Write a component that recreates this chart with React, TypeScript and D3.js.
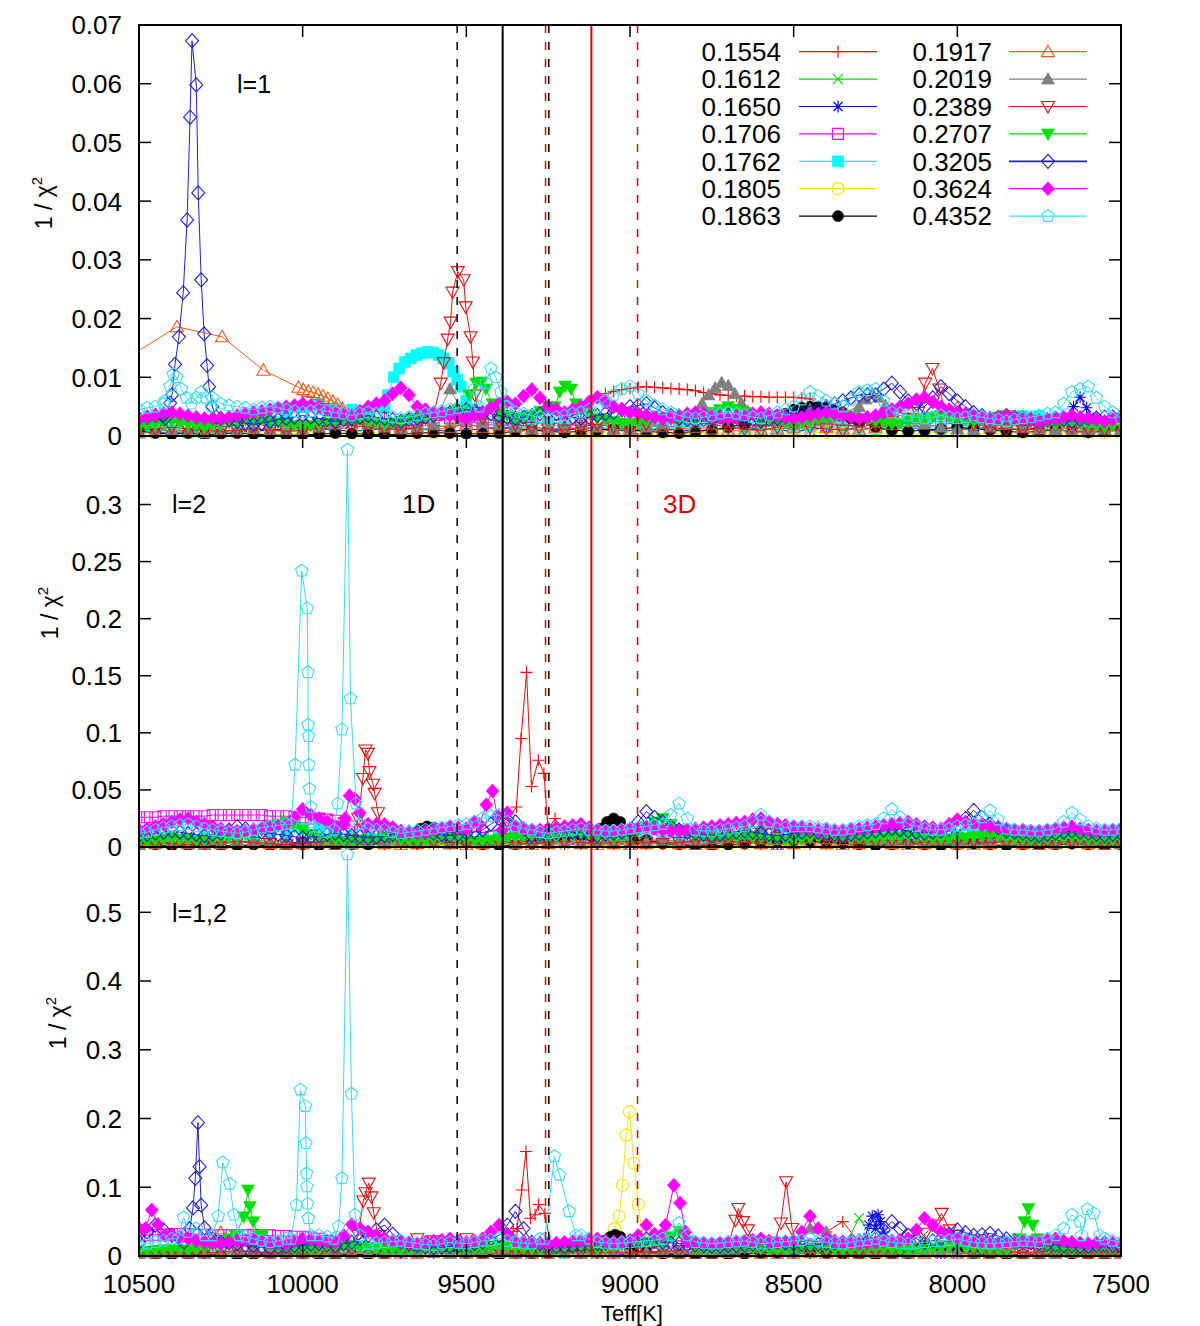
// Three stacked 1/chi^2 vs Teff panels (l=1, l=2, l=1,2), gnuplot look
import * as d3 from "d3"

type Pt = [number, number]

// sample grids in Teff, values below are in units of 1e-3
const TEFF = d3.range(10500, 7499, -50)
const TEFF_MID = d3.range(10475, 7524, -50)
const UNIT = 1e-3

const LABELS = ["0.1554", "0.1612", "0.1650", "0.1706", "0.1762", "0.1805", "0.1863",
  "0.1917", "0.2019", "0.2389", "0.2707", "0.3205", "0.3624", "0.4352"]
const COLORS = ["#ff0000", "#00dd00", "#0000ff", "#ff00ff", "#00ffff", "#f0e800", "#000000",
  "#f05a1e", "#808080", "#e81010", "#00e000", "#2020d8", "#ff00ff", "#38dcf0"]
const MARKS = ["plus", "cross", "star", "sqOpen", "sqFill", "circOpen", "circFill",
  "triOpen", "triFill", "triDownOpen", "triDownFill", "diaOpen", "diaFill", "pentOpen"]

const XTICKS = [10500, 10000, 9500, 9000, 8500, 8000, 7500]
const YTICKS_1 = [0, 0.01, 0.02, 0.03, 0.04, 0.05, 0.06, 0.07]
const YTICKS_2 = [0, 0.05, 0.1, 0.15, 0.2, 0.25, 0.3]
const YTICKS_3 = [0, 0.1, 0.2, 0.3, 0.4, 0.5]

// vertical reference lines (Teff)
const VLINES = [
  { t: 9528, color: "#000", dash: true },
  { t: 9389, color: "#000", dash: false },
  { t: 9258, color: "#e00000", dash: true },
  { t: 9248, color: "#000", dash: true },
  { t: 9118, color: "#e00000", dash: false },
  { t: 8977, color: "#e00000", dash: true },
]

// ---------- panel 1 : l=1 ----------
const l1_1554 = [1.0,1.2,0.8,1.0,0.6,0.8,1.0,0.8,1.2,1.0,
  0.8,1.2,1.5,1.2,4.5,4.0,2.0,2.5,1.8,1.5,
  2.0,1.5,1.2,1.5,2.0,2.5,3.0,4.0,6.5,7.5,
  8.0,8.3,8.2,8.0,7.8,7.3,7.0,6.8,6.7,6.6,
  6.6,6.4,5.0,4.0,3.0,2.0,1.5,1.5,1.2,1.0,
  1.5,1.2,1.0,1.5,1.0,1.2,1.0,1.5,1.0,1.2,1.0]
const l1_1554_pk: Pt[][] = [[[9100,6.5],[9075,7.2],[9050,7.6],[9025,7.9],[9000,8.1],[8975,8.3],[8950,8.4],[8925,8.3],[8900,8.2],[8875,8.1],[8850,8.0],[8825,7.9],[8800,7.7],[8775,7.4],[8750,7.2],[8725,7.0],[8700,6.9],[8675,6.8],[8650,6.8],[8625,6.7],[8600,6.7],[8575,6.6],[8550,6.6],[8525,6.6],[8500,6.6],[8475,6.5],[8450,6.3]]]
const l1_1612 = [1.5,1.0,1.2,0.8,1.0,1.5,1.8,1.2,1.0,0.8,
  1.0,1.5,2.0,2.2,1.8,1.5,1.2,1.0,1.5,1.8,
  2.0,1.5,1.2,1.8,2.5,2.0,1.5,1.2,1.0,1.5,
  2.0,1.8,1.5,1.2,2.0,2.5,2.0,1.5,1.2,1.0,
  1.5,2.0,2.5,2.0,1.5,1.2,1.0,1.5,2.0,2.5,
  2.0,1.5,1.2,1.0,1.5,2.0,2.5,2.0,1.5,1.2,1.0]
const l1_1650 = [0.8,0.6,0.5,0.8,1.0,0.8,0.6,0.8,1.0,1.2,
  1.5,1.2,1.0,0.8,1.0,1.2,1.5,1.2,1.0,0.8,
  1.0,1.2,1.5,1.2,1.0,0.8,1.0,1.2,1.5,1.0,
  0.8,1.0,1.2,1.0,0.8,1.0,1.2,1.5,1.2,1.0,
  0.8,1.0,1.5,2.0,1.5,1.0,1.2,1.5,1.0,0.8,
  1.0,1.2,1.5,2.0,2.5,2.0,1.5,3.0,2.5,2.0,1.5]
const l1_1650_pk: Pt[][] = [[[7665,3.0],[7645,5.0],[7625,6.6],[7605,4.8],[7585,3.0]]]
const l1_1706 = [2.0,2.2,2.5,2.0,1.8,1.5,2.0,2.5,2.2,2.0,
  1.8,2.0,2.5,2.2,2.0,1.8,1.5,2.0,2.5,3.0,
  2.5,2.0,1.8,2.0,2.5,2.2,2.0,1.8,2.0,2.2,
  2.5,2.0,1.8,1.5,2.0,2.2,2.5,2.0,1.8,2.0,
  2.2,2.0,1.8,2.0,2.5,2.2,2.0,1.8,1.5,2.0,
  2.2,2.0,1.8,2.0,2.5,2.2,2.0,1.8,2.0,2.2,2.0]
const l1_1762 = [1.0,0.8,1.0,0.6,0.8,0.5,1.0,1.5,2.5,4.0,
  5.0,5.5,4.5,4.5,3.5,5.0,11.5,13.5,14.2,12.3,
  7.5,4.0,2.5,2.0,1.5,2.0,1.5,1.2,1.0,1.5,
  1.2,1.0,1.5,1.2,1.0,1.2,1.5,1.2,1.0,1.5,
  1.2,1.5,2.0,1.5,1.2,1.0,1.5,1.2,1.5,1.2,
  1.5,2.0,2.5,3.2,3.4,3.4,3.0,2.5,2.0,1.5,1.2]
const l1_1762_pk: Pt[][] = [[[9740,7.0],[9722,10.0],[9705,11.5],[9688,12.6],[9670,13.2],[9652,13.8],[9635,14.1],[9618,14.3],[9600,14.2],[9585,13.8],[9570,13.2],[9554,12.4],[9540,11.0],[9528,9.6],[9517,8.4],[9500,6.0],[9485,4.5]]]
const l1_1805 = [0.5,0.3,0.4,0.5,0.3,0.4,0.5,0.6,0.4,0.3,
  0.5,0.4,0.3,0.5,0.6,0.4,0.3,0.5,0.4,0.3,
  0.5,0.6,0.4,0.3,0.5,0.4,0.3,0.5,0.6,0.4,
  0.3,0.5,0.4,0.3,0.5,0.6,0.4,0.3,0.5,0.4,
  0.3,0.5,0.6,0.4,0.3,0.5,0.4,0.3,0.5,0.6,
  0.4,0.3,0.5,0.4,0.3,0.5,0.6,0.4,0.3,0.5,0.4]
const l1_1863 = [0.8,0.5,0.3,0.5,0.2,0.4,0.5,0.3,0.2,0.1,
  0.2,0.3,0.5,0.4,0.3,0.2,0.3,0.5,0.6,0.5,
  0.4,0.3,0.5,0.8,1.0,0.8,0.6,0.8,1.0,1.2,
  1.0,0.8,0.6,0.5,0.8,1.0,1.5,2.0,2.5,3.5,
  4.5,5.0,4.8,4.0,2.5,1.5,1.0,0.8,1.0,1.2,
  1.5,1.2,1.0,0.8,0.6,0.8,1.0,0.8,0.6,0.8,1.0]
const l1_1863_pk: Pt[][] = [[[8525,3.8],[8500,4.5],[8475,4.8],[8450,5.0],[8425,5.0],[8400,4.8],[8375,4.4],[8350,4.0],[8325,3.0]]]
const l1_1917 = [15,18,18.5,18,17.5,16.9,14,12,11,8.5,
  8,7,5.5,3.5,2.5,2.0,1.5,1.2,1.0,1.5,
  2.0,1.5,1.0,0.8,1.0,1.2,1.5,1.0,0.8,1.0,
  1.2,1.0,0.8,1.2,1.5,1.2,1.0,0.8,1.0,1.2,
  1.5,2.0,1.5,1.2,1.0,1.5,2.0,2.5,3.0,4.0,
  4.8,3.5,2.5,2.0,1.5,1.2,1.0,1.5,1.2,1.0,0.8]
const l1_1917_pk: Pt[][] = [[[10560,12.5],[10384,18.6],[10246,16.9],[10120,11.2],[10013,8.3],[9998,7.9],[9983,7.6],[9968,7.4],[9953,7.1],[9938,6.8],[9923,6.4],[9908,5.9],[9893,5.4],[9878,4.6],[9860,3.5]]]
const l1_2019 = [0.5,0.8,1.0,0.8,0.5,0.8,1.0,1.2,1.0,0.8,
  1.0,1.5,2.0,2.5,2.0,1.5,1.2,1.5,2.0,8.0,
  3.0,2.5,2.0,1.5,1.2,1.0,1.5,2.0,1.5,1.2,
  1.0,1.5,2.0,3.0,4.0,7.5,9.0,5.0,2.5,2.5,
  2.0,4.5,3.0,4.0,5.5,7.3,4.5,3.0,2.0,1.5,
  1.2,1.0,1.5,2.0,1.5,1.2,1.0,0.8,1.0,1.2,1.0]
const l1_2019_pk: Pt[][] = [
  [[8800,4.0],[8780,5.5],[8760,7.0],[8740,8.2],[8720,9.1],[8700,8.6],[8680,7.2],[8660,5.6],[8640,4.2]],
  [[8300,5.0],[8280,6.3],[8260,7.3],[8240,6.6],[8220,5.2],[8200,4.0]]]
const l1_2389 = [1.0,1.2,1.5,1.2,1.0,0.8,1.0,1.2,1.0,0.8,
  1.0,1.5,2.0,1.8,1.5,1.2,1.0,1.5,2.0,4.0,
  20,3.0,2.5,2.0,1.5,1.2,1.0,1.5,2.0,1.5,
  1.2,2.0,3.0,3.1,3.0,2.0,1.5,1.2,1.0,1.5,
  2.0,1.5,1.2,1.0,1.5,2.0,2.5,3.0,8.0,6.0,
  3.0,2.0,1.5,1.2,1.0,1.5,2.0,1.5,1.2,1.0,1.5]
const l1_2389_pk: Pt[][] = [
  [[9600,3.5],[9578,9.0],[9569,12.5],[9557,16.5],[9548,19.4],[9542,24.5],[9526,28.0],[9508,26.6],[9502,22.0],[9487,16.9],[9480,12.6],[9474,7.0],[9462,4.0]],
  [[8120,4.0],[8098,9.0],[8076,11.5],[8055,8.0],[8035,4.0]]]
const l1_2707 = [1.5,2.0,2.5,2.0,1.5,2.0,2.5,3.0,2.5,2.0,
  1.5,2.0,2.5,3.0,2.5,2.0,2.5,3.0,3.5,4.0,
  5.0,8.5,4.0,3.0,3.5,5.0,8.0,4.5,3.0,2.5,
  2.0,2.5,3.0,2.5,3.0,4.0,5.0,4.0,3.0,2.5,
  2.0,2.5,3.0,3.5,3.0,2.5,2.0,2.5,3.0,3.5,
  3.0,2.5,3.0,3.5,3.0,2.5,2.0,2.5,2.0,1.5,2.0]
const m1_2707 = [1.8,2.2,2.2,1.8,1.8,2.2,2.8,2.8,2.2,1.8,
  1.8,2.2,2.8,2.8,2.2,2.2,2.8,3.2,3.8,4.5,
  6.0,6.0,3.5,3.2,4.2,6.5,6.0,3.8,2.8,2.2,
  2.2,2.8,2.8,2.8,3.5,4.5,4.5,3.5,2.8,2.2,
  2.2,2.8,3.2,3.2,2.8,2.2,2.2,2.8,3.2,3.2,
  2.8,2.8,3.2,3.2,2.8,2.2,2.2,2.2,1.8,1.8]
const l1_2707_pk: Pt[][] = [
  [[9510,4.5],[9490,7.0],[9470,9.0],[9455,9.2],[9440,8.0],[9420,5.5]],
  [[9230,5.0],[9215,7.5],[9198,8.5],[9180,8.0],[9165,5.5]]]
const l1_3205 = [3.0,3.5,6,40,8,3.0,2.5,2.0,2.5,3.0,
  3.5,3.0,2.5,3.0,3.5,3.0,2.5,3.0,3.5,4.0,
  4.5,4.0,3.5,3.0,3.5,4.0,3.5,3.0,3.5,4.0,
  5.0,5.5,4.0,3.0,2.5,3.0,3.5,3.0,2.5,3.0,
  3.5,4.0,5.0,6.0,7.0,7.0,9.0,6.0,5.0,8.4,
  6.0,4.0,3.0,3.5,3.0,2.5,3.0,2.5,3.0,3.2,3.3]
const m1_3205 = [3.2,3.5,3.0,20,5,2.8,2.2,2.2,2.8,3.2,
  3.2,2.8,2.8,3.2,3.2,2.8,2.8,3.2,3.8,4.2,
  4.2,3.8,3.2,3.2,3.8,3.8,3.2,3.2,3.8,4.5,
  5.2,4.8,3.5,2.8,2.8,3.2,3.2,2.8,2.8,3.2,
  3.8,4.5,5.5,6.5,7.0,8.0,7.5,5.5,6.5,7.2,
  5.0,3.5,3.2,3.2,2.8,2.8,2.8,2.8,3.1,3.2]
const l1_3205_pk: Pt[][] = [[[10420,3.0],[10405,5.6],[10399,7.0],[10390,12.2],[10378,16.9],[10365,24.4],[10353,36.8],[10344,54.3],[10338,67.3],[10325,59.8],[10319,41.4],[10310,26.6],[10301,17.4],[10292,12.0],[10286,8.4],[10276,5.0],[10264,3.2]]]
const l1_3624 = [3.0,3.5,4.0,3.5,3.0,3.0,3.5,4.0,4.5,5.0,
  5.5,5.0,4.0,3.5,5.0,6.0,8.2,5.0,4.0,3.5,
  3.0,4.0,5.5,5.5,7.9,5.0,4.0,5.0,6.6,5.0,
  4.0,3.5,3.0,3.5,4.0,3.5,3.0,3.5,4.0,3.5,
  3.0,3.5,4.0,3.5,3.0,3.5,4.5,5.5,6.6,5.0,
  4.0,3.5,3.0,3.5,3.0,2.5,3.0,3.5,3.0,2.5,3.0]
const m1_3624 = [3.2,3.8,3.8,3.2,3.0,3.2,3.8,4.2,4.8,5.2,
  5.2,4.5,3.8,4.2,5.5,7.2,7.0,4.5,3.8,3.2,
  3.5,4.8,5.8,6.8,6.5,4.5,4.5,5.8,5.8,4.5,
  3.8,3.2,3.2,3.8,3.8,3.2,3.2,3.8,3.8,3.2,
  3.2,3.8,3.8,3.2,3.2,4.0,5.0,6.2,5.8,4.5,
  3.8,3.2,3.2,3.2,2.8,2.8,3.2,3.2,2.8,2.8]
const l1_4352 = [4.5,5.0,10.5,8,7.5,5.5,5.0,4.5,5.0,4.5,
  4.0,4.5,4.0,3.5,4.0,3.5,3.0,3.5,4.0,4.5,
  5.0,11.5,6.0,4.0,3.5,3.0,3.5,4.0,5.0,7.0,
  8.5,6.0,4.5,3.5,3.0,3.5,4.0,3.5,3.0,4.0,
  5.0,7.5,6.0,5.0,7.5,8.0,4.0,3.5,3.0,3.5,
  3.0,3.5,3.0,2.5,3.0,3.5,4.0,7.5,8.4,5.0,3.0]
const m1_4352 = [4.8,5.5,9.0,8.0,6.5,5.2,4.8,4.8,4.8,4.2,
  4.2,4.2,3.8,3.8,3.8,3.2,3.2,3.8,4.2,4.8,
  8.0,9.0,5.0,3.8,3.2,3.2,3.8,4.5,6.0,8.0,
  7.2,5.2,4.0,3.2,3.2,3.8,3.8,3.2,3.5,4.5,
  6.2,6.8,5.5,6.2,7.8,6.0,3.8,3.2,3.2,3.2,
  3.2,3.2,2.8,2.8,3.2,3.8,5.5,8.0,6.5,4.0]
const l1_4352_pk: Pt[][] = [
  [[10420,6.0],[10405,8.5],[10395,10.5],[10385,10.0],[10370,8.0],[10355,6.5],[10340,5.5],[10325,6.5],[10310,7.5],[10295,6.5],[10280,5.0]],
  [[9460,5.0],[9440,9.0],[9425,11.5],[9410,10.0],[9395,7.5],[9380,5.0]]]

// ---------- panel 2 : l=2 ----------
const l2_1554 = [2,1,2,1,1,1,2,1,1,2,
  3,2,1,2,3,2,1,1,2,3,
  4,3,8,25,30,16,3,2,1,2,
  3,2,1,2,1,1,2,1,1,2,
  3,2,1,2,1,1,2,1,2,3,
  2,1,1,2,1,2,3,2,1,1,2]
const l2_1554_pk: Pt[][] = [[[9400,8],[9372,25],[9347,35],[9333,95],[9316,153],[9301,53],[9280,76],[9263,64.5],[9250,15],[9229,25],[9210,8]]]
const l2_1612 = [4,5,4,6,5,3,4,6,5,4,
  3,5,6,4,3,5,6,4,3,5,
  4,3,5,6,4,3,5,6,4,3,
  5,4,6,5,3,4,5,6,4,3,
  5,4,3,5,6,4,3,5,4,6,
  5,3,4,5,6,4,3,5,4,3,5]
const l2_1650 = [2,3,4,3,2,4,5,3,2,3,
  4,5,3,2,3,4,3,2,4,5,
  3,2,3,4,5,3,2,3,4,3,
  2,4,5,3,2,3,4,5,3,2,
  3,4,5,6,4,3,2,3,4,3,
  2,3,4,5,3,2,3,4,3,2,3]
const l2_1706 = [26,26,27,27,27,28,28,28,27,27,
  26,25,23,18,12,10,9,8,10,12,
  10,8,10,12,10,8,10,12,10,8,
  10,12,10,8,10,12,10,8,10,12,
  10,8,10,12,10,8,10,12,10,8,
  10,12,10,8,10,12,10,8,10,8,10]
const m2_1706 = [26,27,27,27,28,28,28,28,27,26,
  25,24,21,15,11,10,9,9,11,11,
  9,9,11,11,9,9,11,11,9,9,
  11,11,9,9,11,11,9,9,11,11,
  9,9,11,11,9,9,11,11,9,9,
  11,11,9,9,11,11,9,9,9,9]
const l2_1762 = [8,6,5,7,9,6,5,8,10,12,
  16,18,14,10,8,6,5,7,9,6,
  5,7,9,10,8,6,5,7,9,6,
  5,7,6,5,8,6,5,7,9,6,
  5,7,8,6,5,7,9,6,5,7,
  10,13,15,15,14,12,9,7,6,5,7]
const l2_1805 = [1,2,1,1,2,1,0.5,1,2,1,
  1,2,1,1,0.5,1,2,1,1,2,
  1,1,2,1,0.5,1,2,1,1,2,
  1,1,2,1,1,0.5,1,2,1,1,
  2,1,1,0.5,1,2,1,1,2,1,
  1,0.5,1,2,1,1,2,1,1,0.5,1]
const l2_1863 = [3,2,1,1,2,1,1,2,1,1,
  2,1,1,2,2,3,8,16,18,12,
  4,2,1,2,3,4,6,10,15,25,
  15,6,3,2,1,1,2,3,4,5,
  6,5,4,3,2,1,2,3,2,1,
  2,3,2,1,2,1,2,3,2,1,2]
const l2_1863_pk: Pt[][] = [
  [[9680,6],[9660,12],[9640,16],[9620,18],[9600,17],[9580,13],[9560,7]],
  [[9110,8],[9090,16],[9070,22],[9050,25],[9030,22],[9010,14],[8990,6]]]
const l2_1917 = [2,3,4,3,2,3,5,4,3,2,
  3,4,2,3,4,3,2,3,4,3,
  2,3,4,3,2,3,4,3,2,3,
  2,3,4,3,2,3,4,5,3,2,
  3,4,3,2,3,4,3,2,3,4,
  3,2,3,4,3,2,3,4,3,2,3]
const l2_2019 = [2,3,4,3,2,3,4,5,4,3,
  4,5,4,3,4,5,6,5,4,3,
  4,5,4,3,4,5,4,3,4,5,
  4,5,6,5,6,8,10,14,18,15,
  12,14,15,12,8,6,5,4,5,6,
  5,4,5,6,5,4,3,4,5,4,3]
const l2_2389 = [3,4,3,2,3,4,5,4,3,2,
  3,4,5,6,40,8,4,3,5,4,
  3,4,5,4,3,4,5,4,3,4,
  5,4,3,4,5,6,5,4,5,8,
  10,8,6,5,4,5,6,5,4,5,
  6,5,4,5,4,3,4,5,4,3,4]
const l2_2389_pk: Pt[][] = [[[9830,25],[9816,60],[9808,85],[9801,82],[9796,66],[9785,55],[9780,47],[9770,30],[9755,15]]]
const l2_2707 = [5,6,8,7,6,8,10,12,18,22,
  15,8,6,5,7,8,6,5,7,8,
  6,5,7,9,10,8,10,12,9,8,
  10,18,25,15,10,8,9,10,8,7,
  6,8,10,9,8,7,9,10,8,7,
  8,9,10,8,7,6,8,9,7,6,7]
const m2_2707 = [5,7,7,6,7,9,11,15,20,18,
  11,7,5,6,7,7,5,6,7,7,
  5,6,8,9,9,9,11,10,8,9,
  14,22,20,12,9,8,9,9,7,6,
  7,9,9,8,7,8,9,9,7,7,
  8,9,9,7,6,7,8,8,6,6]
const l2_3205 = [10,12,14,12,10,12,18,15,12,10,
  8,10,12,10,8,10,12,14,12,10,
  12,15,25,22,10,12,14,12,10,12,
  14,31,22,15,12,10,12,14,12,10,
  12,14,12,10,12,14,16,14,12,14,
  18,32,20,14,12,10,12,14,12,10,12]
const m2_3205 = [11,13,13,11,11,15,16,13,11,9,
  9,11,11,9,9,11,13,13,11,11,
  13,20,24,16,11,13,13,11,11,13,
  22,26,18,13,11,11,13,13,11,11,
  13,13,11,11,13,15,15,13,13,16,
  25,26,17,13,11,11,13,13,11,11]
const l2_3624 = [15,18,22,25,20,16,14,15,18,20,
  33,25,18,22,20,20,14,12,15,18,
  16,30,45,18,15,16,18,20,15,14,
  16,18,15,14,16,18,20,22,25,20,
  18,16,15,14,16,18,20,22,18,16,
  24,20,18,16,15,14,16,18,15,14,16]
const m2_3624 = [16,20,24,22,18,15,14,16,19,26,
  28,22,20,21,20,17,13,13,16,17,
  22,38,30,16,15,17,19,17,14,15,
  17,16,14,15,17,19,21,24,22,19,
  17,15,14,15,17,19,21,20,17,20,
  22,19,17,15,14,15,17,16,14,15]
const l2_3624_pk: Pt[][] = [
  [[9870,25],[9857,45],[9840,42],[9826,30],[9810,18]],
  [[9460,20],[9439,37],[9420,49],[9405,27],[9390,15]]]
const l2_4352 = [12,15,18,20,16,14,12,15,18,20,
  18,15,12,14,16,15,12,14,16,18,
  20,25,28,18,15,12,14,16,15,14,
  16,18,20,38,15,14,16,18,28,16,
  18,18,16,15,18,20,33,20,16,15,
  18,20,32,16,15,14,16,30,18,15,16]
const m2_4352 = [13,17,19,18,15,13,13,17,19,19,
  16,13,13,15,15,13,13,15,17,19,
  22,27,22,16,13,13,15,15,14,15,
  17,19,28,25,14,15,17,22,22,17,
  18,17,15,16,19,25,26,18,15,16,
  19,26,24,15,14,15,22,24,16,15]
const l2_4352_pk: Pt[][] = [
  [[10035,20],[10023,72],[10003,242],[9986,209],[9984,153],[9983,107],[9982,97],[9981,72],[9979,51],[9975,35],[9965,18]],
  [[9905,15],[9893,38],[9880,103],[9863,348],[9854,130],[9837,38],[9825,20]]]

// ---------- panel 3 : l=1,2 ----------
const l3_1554 = [3,2,1,2,3,2,1,2,3,2,
  1,2,3,2,1,2,3,2,1,2,
  3,2,5,30,40,10,3,2,3,2,
  1,2,3,2,1,2,3,4,3,2,
  3,5,35,50,20,5,3,2,3,2,
  1,2,3,2,1,2,3,2,1,2,3]
const l3_1554_pk: Pt[][] = [[[9375,15],[9357,36],[9345,40],[9331,96],[9318,152],[9304,55],[9290,60],[9279,75],[9260,62],[9245,22],[9230,10]]]
const l3_1612 = [4,5,6,5,4,6,7,5,4,5,
  6,5,4,6,7,5,4,5,6,5,
  4,6,5,4,5,6,5,4,6,5,
  4,5,6,5,4,6,5,4,5,6,
  5,4,6,10,55,20,6,5,4,6,
  5,4,5,6,5,4,6,5,4,5,6]
const l3_1650 = [2,3,4,3,2,4,5,3,2,3,
  4,5,3,2,3,4,3,2,4,5,
  3,2,3,4,5,3,2,3,4,3,
  2,4,5,3,2,3,4,5,3,2,
  3,4,5,6,10,50,12,4,3,2,
  3,4,5,3,2,3,4,5,3,2,3]
const l3_1650_pk: Pt[][] = [[[8285,25],[8270,45],[8260,58],[8250,40],[8242,60],[8235,50],[8225,35],[8210,20]]]
const l3_1706 = [30,31,32,32,31,30,30,31,30,29,
  28,25,20,15,12,10,12,14,12,10,
  12,14,12,10,12,14,12,10,12,14,
  12,10,12,14,12,10,12,14,12,10,
  12,14,12,10,12,14,12,10,12,14,
  12,10,12,14,12,10,12,14,12,10,12]
const m3_1706 = [30,31,32,31,30,30,30,30,29,28,
  27,22,18,14,11,11,13,13,11,11,
  13,13,11,11,13,13,11,11,13,13,
  11,11,13,13,11,11,13,13,11,11,
  13,13,11,11,13,13,11,11,13,13,
  11,11,13,13,11,11,13,13,11,11]
const l3_1762 = [8,6,5,7,9,6,5,8,10,12,
  15,20,14,10,8,6,5,7,9,6,
  5,7,9,10,8,6,5,7,9,6,
  5,7,6,5,8,6,5,7,9,6,
  5,7,8,6,5,7,9,6,5,7,
  9,12,15,20,22,20,15,10,8,6,7]
const l3_1805 = [2,1,2,1,1,2,1,1,2,1,
  1,2,1,1,2,1,1,2,1,1,
  2,1,1,2,1,1,2,1,1,2,
  1,1,2,1,1,2,1,1,2,1,
  1,2,1,1,2,1,1,2,1,1,
  2,1,1,2,1,1,2,1,1,2,1]
const l3_1805_pk: Pt[][] = [[[9060,10],[9047,40],[9033,58],[9023,103],[9012,176],[9002,210],[8988,135],[8975,75],[8960,20]]]
const l3_1863 = [3,2,1,1,2,1,1,2,1,1,
  2,1,1,2,2,3,6,12,14,10,
  4,2,1,2,3,4,6,10,20,30,
  18,6,3,2,1,1,2,3,4,5,
  6,5,4,3,2,1,2,3,15,12,
  8,3,2,1,2,1,2,3,2,1,2]
const l3_1863_pk: Pt[][] = [[[9100,12],[9080,22],[9060,28],[9045,31],[9030,28],[9010,18],[8990,8]]]
const l3_1917 = [4,5,6,5,4,34,8,5,4,3,
  4,5,3,4,5,4,3,4,5,4,
  3,4,5,4,3,4,5,4,3,4,
  3,4,5,4,3,4,5,6,4,3,
  4,5,4,3,4,5,4,3,4,5,
  4,3,4,5,4,3,4,5,4,3,4]
const l3_2019 = [3,4,5,4,3,4,5,6,5,4,
  5,6,5,4,5,6,7,6,5,4,
  5,6,5,4,5,6,5,4,5,6,
  5,6,7,6,7,8,10,12,14,12,
  10,40,35,15,10,8,6,5,6,7,
  6,5,6,7,6,5,4,5,6,5,4]
const l3_2389 = [5,6,5,4,5,6,8,6,5,4,
  5,6,8,10,30,20,15,25,22,15,
  25,10,8,6,5,6,8,6,5,6,
  5,6,7,8,10,15,20,20,15,12,
  20,10,8,6,5,6,8,10,20,45,
  30,10,8,6,5,6,8,6,5,6,5]
const l3_2389_pk: Pt[][] = [
  [[9830,30],[9815,80],[9808,92],[9798,106],[9790,86],[9783,63],[9770,30]],
  [[8700,15],[8678,52],[8669,69],[8655,50],[8640,38],[8620,20]],
  [[8560,20],[8539,48],[8523,108],[8505,40],[8490,20]],
  [[8115,20],[8097,33],[8070,45],[8048,62],[8023,38],[8005,20]]]
const l3_2707 = [6,8,10,8,12,20,60,50,15,10,
  8,10,12,15,12,10,8,10,12,10,
  8,10,15,12,10,8,10,12,10,15,
  18,20,20,36,10,8,10,12,10,8,
  10,12,10,8,10,12,10,8,10,12,
  15,12,10,8,25,15,10,8,10,12,10]
const m3_2707 = [7,9,9,10,16,25,55,30,12,9,
  9,11,13,13,11,9,9,11,11,9,
  9,12,13,11,9,9,11,11,12,16,
  19,20,28,22,9,9,11,11,9,9,
  11,11,9,9,11,11,9,9,11,13,
  13,11,9,15,20,12,9,9,11,11]
const l3_2707_pk: Pt[][] = [
  [[10205,30],[10180,57],[10167,96],[10161,72],[10151,50],[10135,30]],
  [[7810,25],[7795,50],[7783,69],[7770,45],[7755,25]]]
const l3_3205 = [20,45,30,20,30,20,18,15,12,14,
  16,18,15,20,30,45,20,15,12,14,
  16,20,30,65,20,15,14,16,18,20,
  22,25,20,18,16,14,15,16,18,20,
  18,16,18,20,22,25,50,30,20,25,
  38,30,33,25,20,18,16,15,14,16,14]
const m3_3205 = [35,38,25,25,25,19,16,13,13,15,
  17,16,18,25,38,32,17,13,13,15,
  18,25,45,40,17,14,15,17,19,21,
  23,22,19,17,15,14,15,17,19,19,
  17,17,19,21,23,38,40,25,22,32,
  34,31,29,22,19,17,15,14,15,15]
const l3_3205_pk: Pt[][] = [[[10362,20],[10345,40],[10335,70],[10328,113],[10320,194],[10315,130],[10310,74],[10300,41],[10285,25]]]
const l3_3624 = [40,60,30,25,20,18,22,25,20,18,
  25,22,20,46,35,25,20,18,22,25,
  20,25,45,22,20,18,20,22,25,20,
  22,45,25,22,20,18,20,22,25,20,
  22,58,25,20,18,20,22,25,55,35,
  25,22,20,18,20,22,25,20,18,20,18]
const m3_3624 = [50,45,28,22,19,20,23,22,19,22,
  24,21,30,40,30,22,19,20,23,22,
  22,35,32,21,19,19,21,23,22,21,
  30,32,23,21,19,19,21,23,22,21,
  35,40,22,19,19,21,23,38,45,30,
  23,21,19,19,21,23,22,19,19,19]
const l3_3624_pk: Pt[][] = [
  [[10480,40],[10461,67],[10442,46],[10420,30]],
  [[8905,30],[8891,45],[8866,103],[8847,77],[8830,35]]]
const l3_4352 = [15,20,25,56,30,58,30,25,20,25,
  74,30,25,20,18,20,22,18,16,20,
  18,22,25,20,18,40,145,30,20,18,
  20,22,25,48,20,18,20,22,18,20,
  22,25,20,18,22,25,20,18,20,22,
  25,20,18,20,22,20,30,60,62,25,20]
const m3_4352 = [18,22,28,40,35,40,28,22,22,28,
  30,28,22,19,19,21,20,17,18,19,
  20,23,22,19,25,30,30,25,19,19,
  21,23,30,30,19,19,21,20,19,21,
  23,22,19,20,23,22,19,19,21,23,
  22,19,19,21,21,25,40,50,40,22]
const l3_4352_pk: Pt[][] = [
  [[10380,25],[10364,56],[10350,35]],
  [[10275,30],[10258,58],[10244,136],[10223,105],[10210,60],[10195,30]],
  [[10035,25],[10019,74],[10007,242],[9992,218],[9990,164],[9988,120],[9987,101],[9985,76],[9983,55],[9975,30]],
  [[9905,25],[9890,43],[9880,113],[9863,584],[9851,236],[9840,60],[9825,30]],
  [[9260,25],[9231,145],[9215,118],[9186,65],[9165,30]],
  [[7620,30],[7603,68],[7583,62],[7565,30]]]

const GRID_1 = [l1_1554, l1_1612, l1_1650, l1_1706, l1_1762, l1_1805, l1_1863, l1_1917, l1_2019, l1_2389, l1_2707, l1_3205, l1_3624, l1_4352]
const MID_1 = [[], [], [], [], [], [], [], [], [], [], m1_2707, m1_3205, m1_3624, m1_4352]
const PEAK_1 = [l1_1554_pk, [], l1_1650_pk, [], l1_1762_pk, [], l1_1863_pk, l1_1917_pk, l1_2019_pk, l1_2389_pk, l1_2707_pk, l1_3205_pk, [], l1_4352_pk]
const GRID_2 = [l2_1554, l2_1612, l2_1650, l2_1706, l2_1762, l2_1805, l2_1863, l2_1917, l2_2019, l2_2389, l2_2707, l2_3205, l2_3624, l2_4352]
const MID_2 = [[], [], [], m2_1706, [], [], [], [], [], [], m2_2707, m2_3205, m2_3624, m2_4352]
const PEAK_2 = [l2_1554_pk, [], [], [], [], [], l2_1863_pk, [], [], l2_2389_pk, [], [], l2_3624_pk, l2_4352_pk]
const GRID_3 = [l3_1554, l3_1612, l3_1650, l3_1706, l3_1762, l3_1805, l3_1863, l3_1917, l3_2019, l3_2389, l3_2707, l3_3205, l3_3624, l3_4352]
const MID_3 = [[], [], [], m3_1706, [], [], [], [], [], [], m3_2707, m3_3205, m3_3624, m3_4352]
const PEAK_3 = [l3_1554_pk, [], l3_1650_pk, [], [], l3_1805_pk, l3_1863_pk, [], [], l3_2389_pk, l3_2707_pk, l3_3205_pk, l3_3624_pk, l3_4352_pk]

// grid + half-step samples, with finer hand-read points replacing them inside each peak span
function buildSeries(grid: number[], mid: number[], peaks: Pt[][]): Pt[] {
  const spans = peaks.map(p => [d3.min(p, d => d[0])!, d3.max(p, d => d[0])!])
  const free = (t: number) => !spans.some(([a, b]) => t >= a && t <= b)
  const pts: Pt[] = []
  TEFF.forEach((t, i) => { if (free(t)) pts.push([t, grid[i] * UNIT]) })
  mid.forEach((v, i) => { if (free(TEFF_MID[i])) pts.push([TEFF_MID[i], v * UNIT]) })
  peaks.forEach(p => p.forEach(([t, v]) => pts.push([t, v * UNIT])))
  return pts.sort((a, b) => b[0] - a[0])
}

const LEFT = 139
const RIGHT = 1121
const FONT = "'Liberation Sans', Arial, Helvetica, sans-serif"

const PANELS = [
  { top: 25, bottom: 436, ymax: 0.07, ticks: YTICKS_1, tag: "l=1", tagX: 237, tagY: 93, grids: GRID_1, mids: MID_1, peaks: PEAK_1, labX: 52, labY: 203 },
  { top: 436, bottom: 847, ymax: 0.36, ticks: YTICKS_2, tag: "l=2", tagX: 172, tagY: 513, grids: GRID_2, mids: MID_2, peaks: PEAK_2, labX: 58, labY: 613 },
  { top: 847, bottom: 1256, ymax: 0.595, ticks: YTICKS_3, tag: "l=1,2", tagX: 172, tagY: 922, grids: GRID_3, mids: MID_3, peaks: PEAK_3, labX: 66, labY: 1023 },
]

const FILLED = new Set(["sqFill", "circFill", "triFill", "triDownFill", "diaFill"])

function markPath(kind: string, x: number, y: number): string {
  const s = 6
  switch (kind) {
    case "plus": return `M${x - s},${y}H${x + s}M${x},${y - s}V${y + s}`
    case "cross": return `M${x - 5},${y - 5}L${x + 5},${y + 5}M${x - 5},${y + 5}L${x + 5},${y - 5}`
    case "star": return `M${x - s},${y}H${x + s}M${x},${y - s}V${y + s}M${x - 4.5},${y - 4.5}L${x + 4.5},${y + 4.5}M${x - 4.5},${y + 4.5}L${x + 4.5},${y - 4.5}`
    case "sqOpen":
    case "sqFill": return `M${x - 5.5},${y - 5.5}H${x + 5.5}V${y + 5.5}H${x - 5.5}Z`
    case "circOpen":
    case "circFill": {
      const r = kind === "circFill" ? 5.5 : 6
      return `M${x + r},${y}A${r},${r} 0 1,1 ${x - r},${y}A${r},${r} 0 1,1 ${x + r},${y}Z`
    }
    case "triOpen":
    case "triFill": return `M${x},${y - 6.5}L${x + 6.5},${y + 5}H${x - 6.5}Z`
    case "triDownOpen":
    case "triDownFill": return `M${x},${y + 6.5}L${x + 6.5},${y - 5}H${x - 6.5}Z`
    case "diaOpen":
    case "diaFill": return `M${x},${y - 7}L${x + 6.5},${y}L${x},${y + 7}L${x - 6.5},${y}Z`
    case "pentOpen": {
      const r = 6.5
      const p = d3.range(5).map(k => {
        const a = -Math.PI / 2 + (k * 2 * Math.PI) / 5
        return `${(x + r * Math.cos(a)).toFixed(1)},${(y + r * Math.sin(a)).toFixed(1)}`
      })
      return `M${p.join("L")}Z`
    }
  }
  return ""
}

export default function App() {
  const x = d3.scaleLinear().domain([10500, 7500]).range([LEFT, RIGHT])
  const tickLen = 12

  return (
    <svg width={1200} height={1326} style={{ position: "absolute", left: 0, top: 0, background: "#fff" }} fontFamily={FONT}>
      <rect width={1200} height={1326} fill="#fff" />
      <defs>
        {PANELS.map((p, pi) => (
          <clipPath id={`clip${pi}`} key={pi}>
            <rect x={LEFT} y={p.top} width={RIGHT - LEFT} height={p.bottom - p.top + 3} />
          </clipPath>
        ))}
      </defs>

      {/* data */}
      {PANELS.map((p, pi) => {
        const y = d3.scaleLinear().domain([0, p.ymax]).range([p.bottom, p.top])
        const line = d3.line<Pt>().x(d => x(d[0])).y(d => y(d[1]))
        return (
          <g key={pi} clipPath={`url(#clip${pi})`}>
            {p.grids.map((g, si) => {
              const pts = buildSeries(g, p.mids[si] as number[], p.peaks[si] as Pt[][])
              const kind = MARKS[si]
              const filled = FILLED.has(kind)
              const marks = pts.map(d => markPath(kind, x(d[0]), y(d[1]))).join("")
              return (
                <g key={si}>
                  <path d={line(pts) || ""} fill="none" stroke={COLORS[si]} strokeWidth={1} />
                  <path d={marks} fill={filled ? COLORS[si] : "none"} stroke={COLORS[si]} strokeWidth={filled ? 0.6 : 1.1} />
                </g>
              )
            })}
          </g>
        )
      })}

      {/* reference Teff lines */}
      {VLINES.map((v, i) => (
        <line key={i} x1={x(v.t)} x2={x(v.t)} y1={PANELS[0].top} y2={PANELS[2].bottom}
          stroke={v.color} strokeWidth={v.dash ? 1.5 : 2} strokeDasharray={v.dash ? "8,9" : undefined} />
      ))}

      {/* frames, ticks, labels */}
      {PANELS.map((p, pi) => {
        const y = d3.scaleLinear().domain([0, p.ymax]).range([p.bottom, p.top])
        return (
          <g key={`ax${pi}`}>
            <rect x={LEFT} y={p.top} width={RIGHT - LEFT} height={p.bottom - p.top} fill="none" stroke="#000" strokeWidth={2} />
            {p.ticks.map(t => (
              <g key={t}>
                <line x1={LEFT} x2={LEFT + tickLen} y1={y(t)} y2={y(t)} stroke="#000" strokeWidth={1.5} />
                <line x1={RIGHT} x2={RIGHT - tickLen} y1={y(t)} y2={y(t)} stroke="#000" strokeWidth={1.5} />
                <text x={122} y={y(t)} dy="0.36em" textAnchor="end" fontSize={26}>{String(+t.toFixed(2))}</text>
              </g>
            ))}
            {XTICKS.map(t => (
              <g key={t}>
                <line x1={x(t)} x2={x(t)} y1={p.bottom} y2={p.bottom - tickLen} stroke="#000" strokeWidth={1.5} />
                <line x1={x(t)} x2={x(t)} y1={p.top} y2={p.top + tickLen} stroke="#000" strokeWidth={1.5} />
              </g>
            ))}
            <text x={p.tagX} y={p.tagY} fontSize={25}>{p.tag}</text>
            <text transform={`translate(${p.labX},${p.labY}) rotate(-90)`} textAnchor="middle" fontSize={23}>
              1 / χ<tspan dy={-10} fontSize={15}>2</tspan>
            </text>
          </g>
        )
      })}

      {XTICKS.map(t => (
        <text key={t} x={x(t)} y={1293} textAnchor="middle" fontSize={26}>{t}</text>
      ))}
      <text x={632} y={1321} textAnchor="middle" fontSize={22}>Teff[K]</text>

      <text x={402} y={513} fontSize={26}>1D</text>
      <text x={663} y={513} fontSize={26} fill="#e00000">3D</text>

      {/* key */}
      {LABELS.map((lab, i) => {
        const col = i < 7 ? 0 : 1
        const row = i % 7
        const yy = 51.7 + row * 27.4
        const tx = [781, 992][col]
        const lx1 = [799, 1009][col]
        const lx2 = [877, 1087][col]
        const mx = [838, 1048][col]
        const kind = MARKS[i]
        const filled = FILLED.has(kind)
        return (
          <g key={lab}>
            <text x={tx} y={yy} dy="0.36em" textAnchor="end" fontSize={26}>{lab}</text>
            <line x1={lx1} x2={lx2} y1={yy} y2={yy} stroke={COLORS[i]} strokeWidth={i === 11 ? 1.8 : 1.2} />
            <path d={markPath(kind, mx, yy)} fill={filled ? COLORS[i] : "none"} stroke={COLORS[i]} strokeWidth={filled ? 0.6 : 1.2} />
          </g>
        )
      })}
    </svg>
  )
}
